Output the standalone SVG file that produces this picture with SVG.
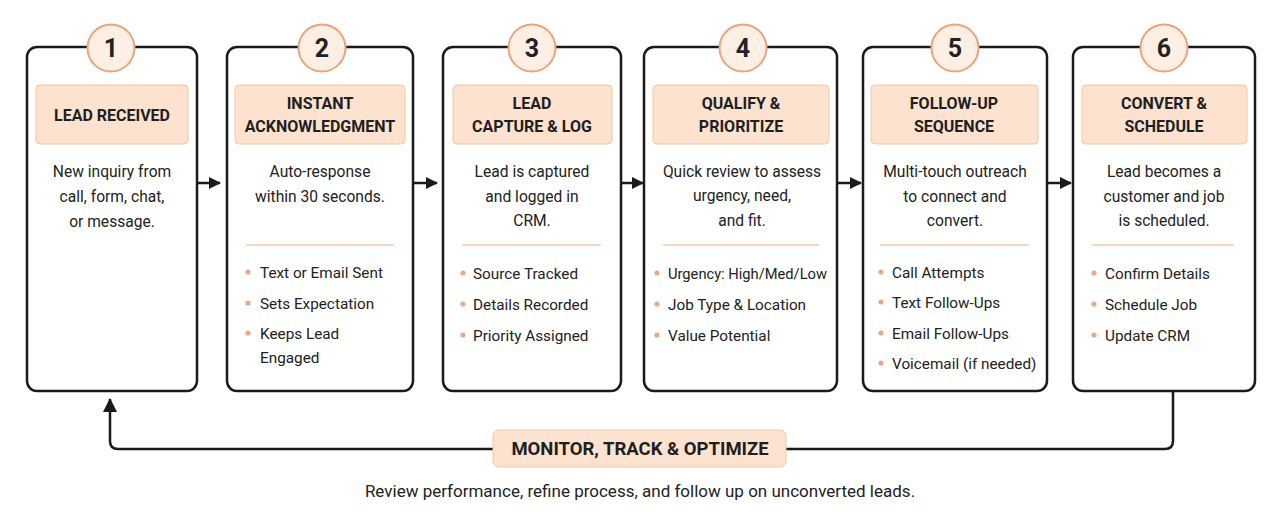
<svg xmlns="http://www.w3.org/2000/svg" width="1280" height="526" viewBox="0 0 1280 526">
<defs>
<marker id="ah" viewBox="0 0 12 12" refX="11" refY="6" markerWidth="12" markerHeight="12" markerUnits="userSpaceOnUse" orient="auto">
<path d="M0,0 L12,6 L0,12 Z" fill="#1a1a1a"/>
</marker>
<marker id="ahb" viewBox="0 0 14 14" refX="13" refY="7" markerWidth="14" markerHeight="14" markerUnits="userSpaceOnUse" orient="auto">
<path d="M0,0 L14,7 L0,14 Z" fill="#1a1a1a"/>
</marker>
<style>
.box{fill:#fff;stroke:#1a1a1a;stroke-width:2.5}
.circ{fill:#fdefe4;stroke:#e8a57e;stroke-width:2}
.num{font-family:Roboto,"Liberation Sans",sans-serif;font-size:25px;font-weight:700;fill:#222;text-anchor:middle}
.hdr{fill:#fce2cf;stroke:#f2c6a6;stroke-width:1}
.ht{font-family:Roboto,"Liberation Sans",sans-serif;font-size:16px;font-weight:700;fill:#1f1f1f;text-anchor:middle}
.bt{font-family:Roboto,"Liberation Sans",sans-serif;font-size:15.6px;fill:#222;text-anchor:middle}
.li{font-family:Roboto,"Liberation Sans",sans-serif;font-size:15.3px;fill:#222}
.dot{fill:#e8a98a}
.div{stroke:#f0c8ac;stroke-width:1.5}
.con{fill:none;stroke:#1a1a1a;stroke-width:2.5}
</style>
</defs>
<rect width="1280" height="526" fill="#ffffff"/>

<g id="connectors">
<line class="con" x1="197" y1="183" x2="220" y2="183" marker-end="url(#ah)"/>
<line class="con" x1="413" y1="183" x2="437" y2="183" marker-end="url(#ah)"/>
<line class="con" x1="621" y1="183" x2="643" y2="183" marker-end="url(#ah)"/>
<line class="con" x1="837" y1="183" x2="861" y2="183" marker-end="url(#ah)"/>
<line class="con" x1="1047" y1="183" x2="1071" y2="183" marker-end="url(#ah)"/>
<path class="con" d="M1173,392 V441 Q1173,449 1165,449 H786"/>
<path class="con" d="M493,449 H118 Q110,449 110,441 V399" marker-end="url(#ahb)"/>
</g>

<g id="node1">
<rect class="box" x="27" y="47" width="170" height="344" rx="10"/>
<circle class="circ" cx="111" cy="48" r="23.5"/>
<text class="num" x="111" y="57">1</text>
<rect class="hdr" x="36" y="85" width="152" height="59" rx="4"/>
<text class="ht" x="112" y="121">LEAD RECEIVED</text>
<text class="bt" x="112" y="177">New inquiry from</text>
<text class="bt" x="112" y="202">call, form, chat,</text>
<text class="bt" x="112" y="227">or message.</text>
</g>

<g id="node2">
<rect class="box" x="227" y="47" width="186" height="344" rx="10"/>
<circle class="circ" cx="322" cy="48" r="23.5"/>
<text class="num" x="322" y="57">2</text>
<rect class="hdr" x="235" y="85" width="170" height="59" rx="4"/>
<text class="ht" x="320" y="109">INSTANT</text>
<text class="ht" x="320" y="132">ACKNOWLEDGMENT</text>
<text class="bt" x="320" y="177">Auto-response</text>
<text class="bt" x="320" y="202">within 30 seconds.</text>
<line class="div" x1="246" y1="245" x2="394" y2="245"/>
<circle class="dot" cx="248" cy="272" r="2.6"/>
<text class="li" x="260" y="278">Text or Email Sent</text>
<circle class="dot" cx="248" cy="303" r="2.6"/>
<text class="li" x="260" y="309">Sets Expectation</text>
<circle class="dot" cx="248" cy="333" r="2.6"/>
<text class="li" x="260" y="339">Keeps Lead</text>
<text class="li" x="260" y="363">Engaged</text>
</g>

<g id="node3">
<rect class="box" x="443" y="47" width="178" height="344" rx="10"/>
<circle class="circ" cx="532" cy="48" r="23.5"/>
<text class="num" x="532" y="57">3</text>
<rect class="hdr" x="453" y="85" width="159" height="59" rx="4"/>
<text class="ht" x="532" y="109">LEAD</text>
<text class="ht" x="532" y="132">CAPTURE &amp; LOG</text>
<text class="bt" x="532" y="177">Lead is captured</text>
<text class="bt" x="532" y="202">and logged in</text>
<text class="bt" x="532" y="226">CRM.</text>
<line class="div" x1="462" y1="245" x2="601" y2="245"/>
<circle class="dot" cx="463" cy="273" r="2.6"/>
<text class="li" x="473" y="279">Source Tracked</text>
<circle class="dot" cx="463" cy="304" r="2.6"/>
<text class="li" x="473" y="310">Details Recorded</text>
<circle class="dot" cx="463" cy="335" r="2.6"/>
<text class="li" x="473" y="341">Priority Assigned</text>
</g>

<g id="node4">
<rect class="box" x="644" y="47" width="193" height="344" rx="10"/>
<circle class="circ" cx="743" cy="48" r="23.5"/>
<text class="num" x="743" y="57">4</text>
<rect class="hdr" x="653" y="85" width="176" height="59" rx="4"/>
<text class="ht" x="741" y="109">QUALIFY &amp;</text>
<text class="ht" x="741" y="132">PRIORITIZE</text>
<text class="bt" x="742" y="177">Quick review to assess</text>
<text class="bt" x="742" y="201">urgency, need,</text>
<text class="bt" x="742" y="226">and fit.</text>
<line class="div" x1="663" y1="245" x2="819" y2="245"/>
<circle class="dot" cx="657" cy="273" r="2.6"/>
<text class="li" x="668" y="279" textLength="159" lengthAdjust="spacingAndGlyphs">Urgency: High/Med/Low</text>
<circle class="dot" cx="657" cy="304" r="2.6"/>
<text class="li" x="668" y="310">Job Type &amp; Location</text>
<circle class="dot" cx="657" cy="335" r="2.6"/>
<text class="li" x="668" y="341">Value Potential</text>
</g>

<g id="node5">
<rect class="box" x="863" y="47" width="184" height="344" rx="10"/>
<circle class="circ" cx="955" cy="48" r="23.5"/>
<text class="num" x="955" y="57">5</text>
<rect class="hdr" x="871" y="85" width="167" height="59" rx="4"/>
<text class="ht" x="954" y="109">FOLLOW-UP</text>
<text class="ht" x="954" y="132">SEQUENCE</text>
<text class="bt" x="955" y="177">Multi-touch outreach</text>
<text class="bt" x="955" y="202">to connect and</text>
<text class="bt" x="955" y="226">convert.</text>
<line class="div" x1="880" y1="245" x2="1029" y2="245"/>
<circle class="dot" cx="881" cy="272" r="2.6"/>
<text class="li" x="892" y="278">Call Attempts</text>
<circle class="dot" cx="881" cy="302" r="2.6"/>
<text class="li" x="892" y="308">Text Follow-Ups</text>
<circle class="dot" cx="881" cy="333" r="2.6"/>
<text class="li" x="892" y="339">Email Follow-Ups</text>
<circle class="dot" cx="881" cy="363" r="2.6"/>
<text class="li" x="892" y="369">Voicemail (if needed)</text>
</g>

<g id="node6">
<rect class="box" x="1073" y="47" width="182" height="344" rx="10"/>
<circle class="circ" cx="1164" cy="48" r="23.5"/>
<text class="num" x="1164" y="57">6</text>
<rect class="hdr" x="1082" y="85" width="165" height="59" rx="4"/>
<text class="ht" x="1164" y="109">CONVERT &amp;</text>
<text class="ht" x="1164" y="132">SCHEDULE</text>
<text class="bt" x="1164" y="177">Lead becomes a</text>
<text class="bt" x="1164" y="202">customer and job</text>
<text class="bt" x="1164" y="226">is scheduled.</text>
<line class="div" x1="1092" y1="245" x2="1234" y2="245"/>
<circle class="dot" cx="1094" cy="273" r="2.6"/>
<text class="li" x="1105" y="279">Confirm Details</text>
<circle class="dot" cx="1094" cy="304" r="2.6"/>
<text class="li" x="1105" y="310">Schedule Job</text>
<circle class="dot" cx="1094" cy="335" r="2.6"/>
<text class="li" x="1105" y="341">Update CRM</text>
</g>

<g id="monitor">
<rect class="hdr" x="493" y="430" width="293" height="37" rx="6"/>
<text class="ht" x="640" y="455" style="font-size:18.5px">MONITOR, TRACK &amp; OPTIMIZE</text>
<text class="bt" x="640" y="497" style="font-size:17px">Review performance, refine process, and follow up on unconverted leads.</text>
</g>
</svg>
